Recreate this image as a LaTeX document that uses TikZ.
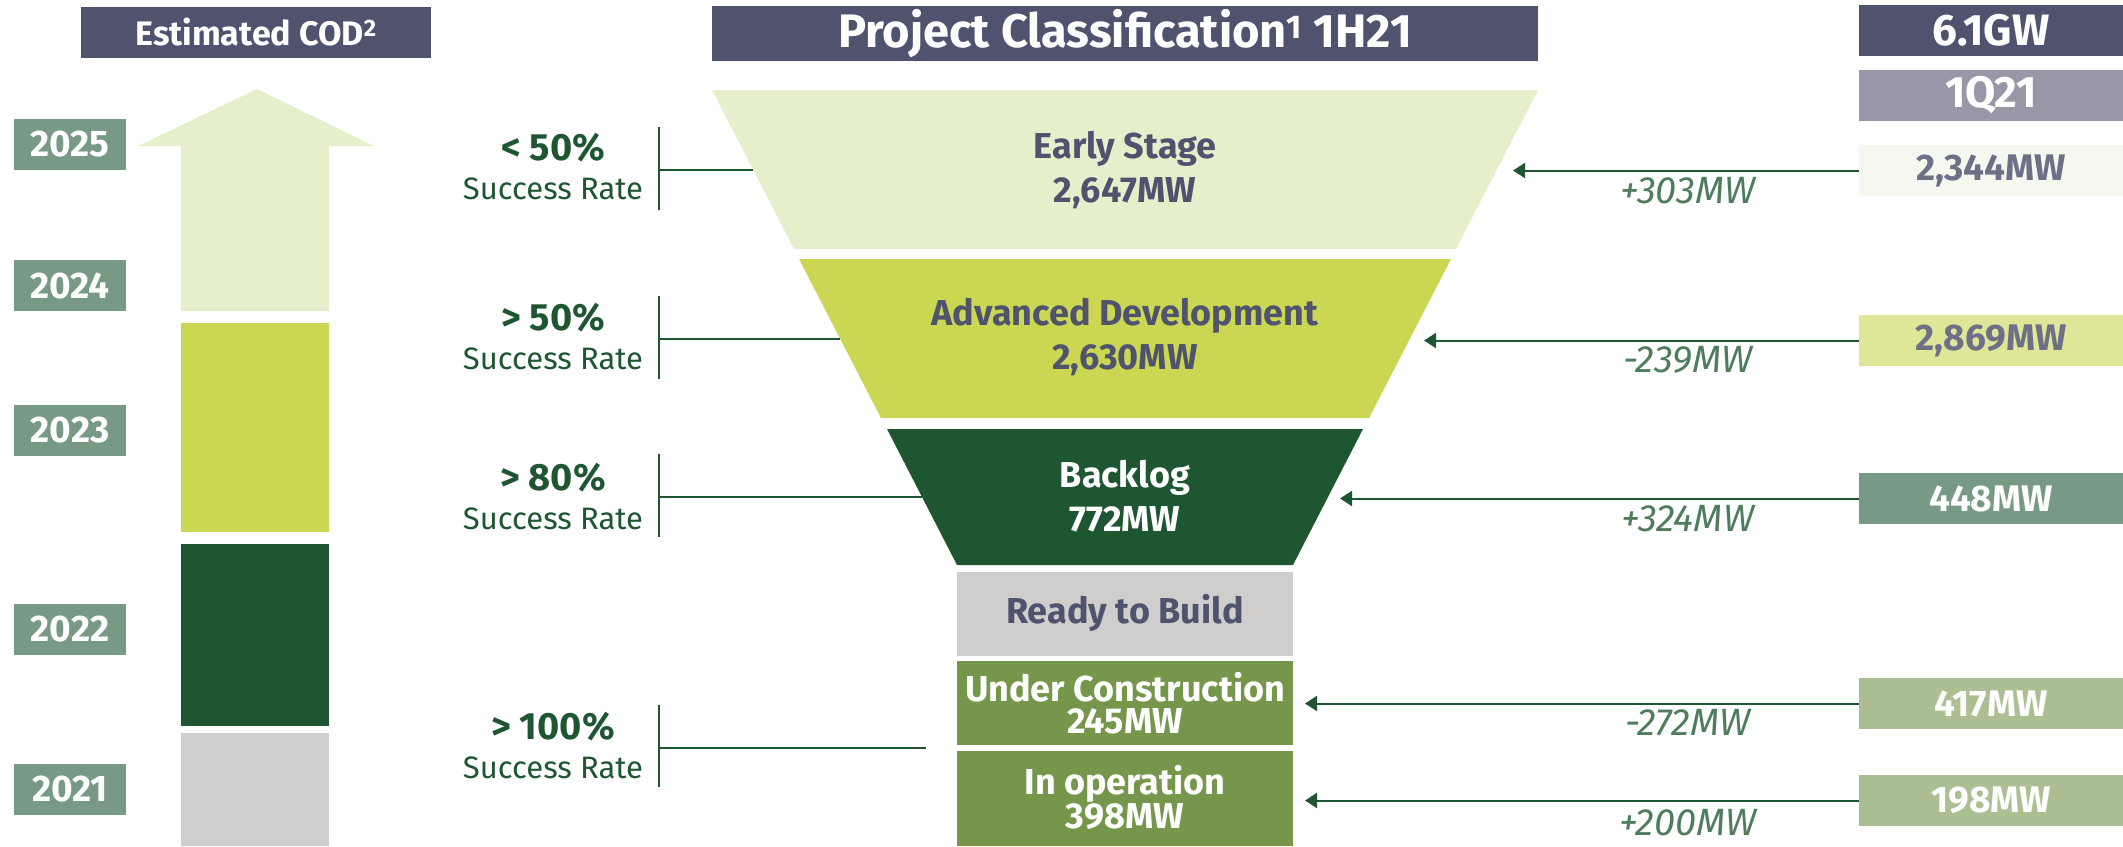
\documentclass[tikz,border=0pt]{standalone}
\usepackage{fontspec}
\setmainfont{Fira Sans}
\usepackage{tikz}
\usetikzlibrary{positioning,arrows.meta}

\definecolor{navy}{HTML}{50536E}
\definecolor{lavender}{HTML}{9797A7}
\definecolor{pale}{HTML}{E6EFCB}
\definecolor{lime}{HTML}{CBD753}
\definecolor{forest}{HTML}{1F5632}
\definecolor{stone}{HTML}{CFCECC}
\definecolor{olive}{HTML}{76964B}
\definecolor{sage}{HTML}{789A85}
\definecolor{palebox}{HTML}{F4F8EE}
\definecolor{limebox}{HTML}{E0E697}
\definecolor{mint}{HTML}{ACBF93}
\definecolor{gaingreen}{HTML}{4E7C5C}
\definecolor{greytext}{HTML}{6E7088}

\begin{document}
\begin{tikzpicture}[x=1pt,y=-1pt,
  header/.style={fill=navy,text=white,inner sep=0pt,font=\fontsize{34}{38}\selectfont\bfseries},
  year/.style={fill=sage,text=white,inner sep=0pt,minimum width=112pt,minimum height=51pt,font=\fontsize{37}{40}\selectfont\bfseries},
  box/.style={inner sep=0pt,minimum width=264pt,minimum height=51pt,font=\fontsize{37}{40}\selectfont\bfseries},
  rate/.style={text=forest,align=center,font=\fontsize{31}{39}\selectfont},
  stage/.style={align=center,font=\fontsize{36}{44}\selectfont\bfseries},
  gain/.style={text=gaingreen,font=\fontsize{38}{40}\selectfont\itshape},
  link/.style={forest,line width=2pt},
  flow/.style={link,-{Triangle[length=12pt,width=15pt]}}]

\useasboundingbox (0,0) rectangle (2123,846);

% COD column
\node[header,minimum width=350pt,minimum height=51pt] (cod) at (256,32.5) {Estimated COD\textsuperscript{2}};
\fill[pale] (181,311) -- (181,146) -- (138,146) -- (257,89) -- (374,146) -- (329,146) -- (329,311) -- cycle;
\fill[lime] (181,323) rectangle (329,532);
\fill[forest] (181,544) rectangle (329,726);
\fill[stone] (181,733) rectangle (329,846);

\node[year] (y25) at (70,144.5) {2025};
\node[year] (y24) at (70,285.5) {2024};
\node[year] (y23) at (70,430.5) {2023};
\node[year] (y22) at (70,629.5) {2022};
\node[year] (y21) at (70,789.5) {2021};

% funnel
\node[header,minimum width=826pt,minimum height=55pt,font=\fontsize{47}{50}\selectfont\bfseries] (title) at (1125,33.5) {Project Classification\textsuperscript{1} 1H21};
\fill[pale] (712,90) -- (1538,90) -- (1456,249) -- (794,249) -- cycle;
\fill[lime] (799,259) -- (1451,259) -- (1369,418) -- (881,418) -- cycle;
\fill[forest] (887,429) -- (1363,429) -- (1293,565) -- (957,565) -- cycle;
\fill[stone] (957,572) rectangle (1293,656);
\fill[olive] (957,661) rectangle (1293,745);
\fill[olive] (957,751) rectangle (1293,846);

\node[stage,text=navy] (early) at (1125,170) {Early Stage\\2,647MW};
\node[stage,text=navy] (adv) at (1125,337) {Advanced Development\\2,630MW};
\node[stage,text=white] (back) at (1125,496) {Backlog\\772MW};
\node[stage,text=navy] (ready) at (1125,613) {Ready to Build};
\node[stage,text=white,font=\fontsize{36}{32}\selectfont\bfseries] (uc) at (1125,703) {Under Construction\\245MW};
\node[stage,text=white,font=\fontsize{36}{31}\selectfont\bfseries] (io) at (1125,797.5) {In operation\\398MW};

% success rates
\node[rate] (r1) at (553,167) {{\fontsize{38}{39}\selectfont\bfseries < 50\%}\\Success Rate};
\node[rate] (r2) at (553,337) {{\fontsize{38}{39}\selectfont\bfseries > 50\%}\\Success Rate};
\node[rate] (r3) at (553,496) {{\fontsize{38}{39}\selectfont\bfseries > 80\%}\\Success Rate};
\node[rate] (r4) at (553,745) {{\fontsize{38}{39}\selectfont\bfseries > 100\%}\\Success Rate};

\coordinate (l1) at (753,170);
\coordinate (l2) at (840,339);
\coordinate (l3) at (922,497);
\coordinate (l4) at (926,748);
\draw[link] (659,127) -- (659,210) (659,170) -- (l1);
\draw[link] (659,296) -- (659,379) (659,339) -- (l2);
\draw[link] (659,454) -- (659,537) (659,497) -- (l3);
\draw[link] (659,705) -- (659,787) (659,748) -- (l4);

% 1Q21 column
\node[box,fill=navy,text=white,font=\fontsize{44}{46}\selectfont\bfseries] (gw) at (1991,30.5) {6.1GW};
\node[box,fill=lavender,text=white,font=\fontsize{44}{46}\selectfont\bfseries] (q1) at (1991,95.5) {1Q21};
\node[box,fill=palebox,text=greytext] (b1) at (1991,170.5) {2,344MW};
\node[box,fill=limebox,text=greytext] (b2) at (1991,340.5) {2,869MW};
\node[box,fill=sage,text=white] (b3) at (1991,498.5) {448MW};
\node[box,fill=mint,text=white] (b4) at (1991,703.5) {417MW};
\node[box,fill=mint,text=white] (b5) at (1991,800.5) {198MW};

\coordinate (t1) at (1513,170.5);
\coordinate (t2) at (1424,340.5);
\coordinate (t3) at (1340,498.5);
\coordinate (t4) at (1305,703.5);
\coordinate (t5) at (1305,800.5);
\draw[flow] (b1.west) -- (t1);
\draw[flow] (b2.west) -- (t2);
\draw[flow] (b3.west) -- (t3);
\draw[flow] (b4.west) -- (t4);
\draw[flow] (b5.west) -- (t5);

\node[gain] (g1) at (1688,191) {+303MW};
\node[gain] (g2) at (1688,360) {-239MW};
\node[gain] (g3) at (1688,519) {+324MW};
\node[gain] (g4) at (1688,723) {-272MW};
\node[gain] (g5) at (1688,823) {+200MW};
\end{tikzpicture}
\end{document}
